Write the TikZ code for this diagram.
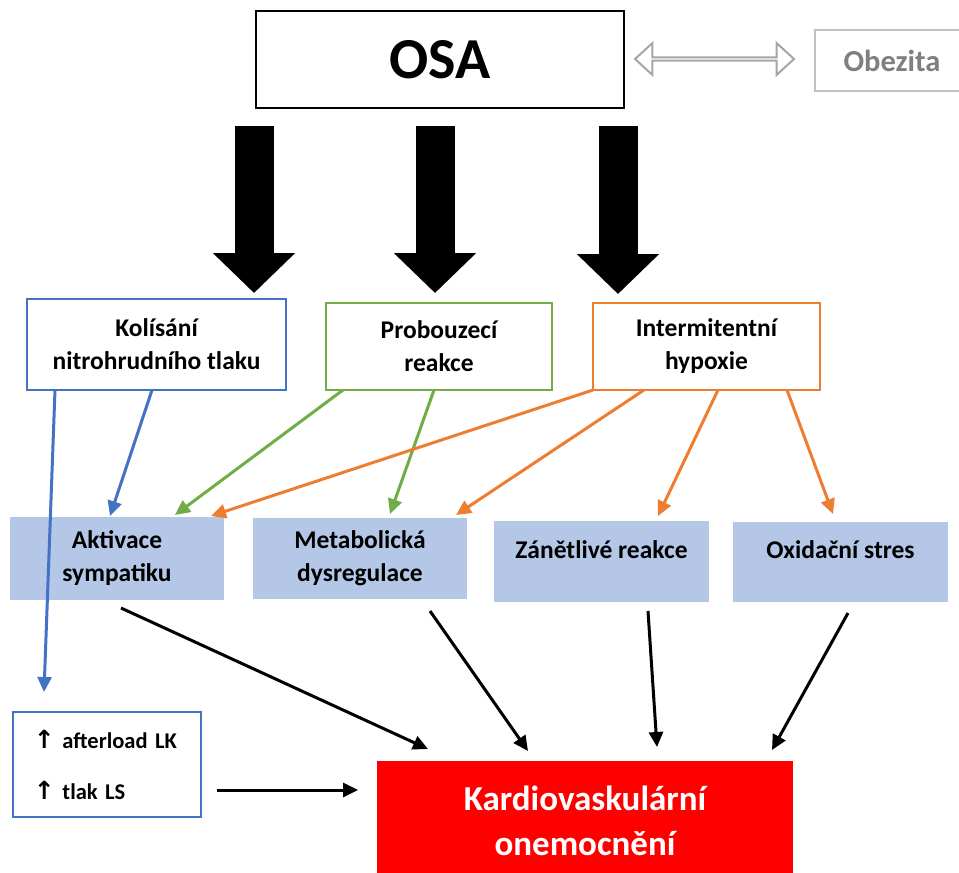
\documentclass[tikz,border=0pt]{standalone}
\usepackage{fontspec}
\setmainfont{Carlito}
\newfontfamily\arrowfont{DejaVu Sans}
\usetikzlibrary{arrows.meta,shapes.arrows}
\definecolor{osablue}{HTML}{4472C4}
\definecolor{osagreen}{HTML}{70AD47}
\definecolor{osaorange}{HTML}{ED7D31}
\definecolor{effectfill}{HTML}{B4C7E7}
\definecolor{linkgray}{HTML}{A6A6A6}
\definecolor{textgray}{HTML}{7F7F7F}

\begin{document}
\begin{tikzpicture}[x=1pt,y=-1pt,
  every node/.append style={outer sep=0pt},
  txt/.style={font=\fontsize{25.5}{33}\selectfont\bfseries},
  causebox/.style={draw, line width=2pt, fill=white, align=center, inner sep=0pt, txt},
  effectbox/.style={fill=effectfill, minimum width=214pt, minimum height=81pt, align=center, inner sep=0pt, txt},
  bigarrow/.style={line width=39pt, -{Triangle[width=80pt,length=40pt]}},
  thinarrow/.style={line width=3pt, -{Triangle[width=14pt,length=15pt]}}]
\useasboundingbox (0,0) rectangle (959,873);

% Top row
\node[draw, line width=2.5pt, minimum width=368pt, minimum height=97pt, font=\fontsize{58}{60}\selectfont\bfseries] (osa) at (440,59.5) {OSA};
\node[draw=linkgray!70, line width=2pt, minimum width=154pt, minimum height=61pt, text=textgray, font=\fontsize{30.5}{32}\selectfont\bfseries] (obez) at (892,60.5) {Obezita};
\node[double arrow, draw=linkgray, line width=2pt, fill=white, minimum height=159pt, minimum width=32pt, double arrow head extend=8.5pt, double arrow tip angle=85, inner sep=0pt] (link) at (714.5,59) {};

% Causes
\node[causebox, draw=osablue, minimum width=259pt, minimum height=91pt] (kol) at (156.5,344.5) {Kolísání\\nitrohrudního tlaku};
\node[causebox, draw=osagreen, minimum width=226pt, minimum height=87pt] (prob) at (439,346.5) {Probouzecí\\reakce};
\node[causebox, draw=osaorange, minimum width=227pt, minimum height=87pt] (hyp) at (706.5,346.5) {Intermitentní\\hypoxie};

\draw[bigarrow] ([xshift=-186pt,yshift=-18pt]osa.south) -- ([xshift=97.5pt,yshift=6pt]kol.north);
\draw[bigarrow] ([xshift=-5pt,yshift=-18pt]osa.south) -- ([xshift=-4pt,yshift=10pt]prob.north);
\draw[bigarrow] ([xshift=178pt,yshift=-18pt]osa.south) -- ([xshift=-88.5pt,yshift=9pt]hyp.north);

% Effects
\node[effectbox, minimum height=83pt] (akt) at (117,558.5) {Aktivace\\sympatiku};
\node[effectbox] (met) at (360,558.5) {Metabolická\\dysregulace};
\node[effectbox, minimum width=215pt, text depth=24pt] (zan) at (601.5,561.5) {Zánětlivé reakce};
\node[effectbox, minimum width=215pt, minimum height=80pt, text depth=24pt] (oxi) at (840.5,562) {Oxidační stres};

% Bottom row
\node[draw=osablue, line width=2pt, minimum width=188pt, minimum height=105pt, text width=146pt, align=left, inner sep=0pt, font=\fontsize{22.5}{26}\selectfont\bfseries] (tlak) at (107,764.5) {{\arrowfont\fontsize{25}{26}\selectfont ↑} afterload LK\\[25pt]{\arrowfont\fontsize{25}{26}\selectfont ↑} tlak LS};
\node[fill=red, minimum width=416pt, minimum height=119pt, align=center, text=white, font=\fontsize{35}{45}\selectfont\bfseries] (kard) at (585,820.5) {Kardiovaskulární\\onemocnění};

% Colored connectors
\draw[thinarrow, osablue] ([xshift=-101.5pt]kol.south) -- ([xshift=-63pt,yshift=20pt]tlak.north);
\draw[thinarrow, osablue] ([xshift=-4.5pt]kol.south) -- ([xshift=-7pt,yshift=1pt]akt.north);
\draw[thinarrow, osagreen] ([xshift=-96pt]prob.south) -- ([xshift=58pt,yshift=2pt]akt.north);
\draw[thinarrow, osagreen] ([xshift=-5pt]prob.south) -- ([xshift=30pt,yshift=4pt]met.north);
\draw[thinarrow, osaorange] (hyp.south west) -- ([xshift=94pt,yshift=1pt]akt.north);
\draw[thinarrow, osaorange] ([xshift=-62.5pt]hyp.south) -- ([xshift=96pt,yshift=3pt]met.north);
\draw[thinarrow, osaorange] ([xshift=11.5pt]hyp.south) -- ([xshift=56.5pt,yshift=5pt]zan.north);
\draw[thinarrow, osaorange] ([xshift=80.5pt]hyp.south) -- ([xshift=-7.5pt,yshift=8pt]oxi.north);

% Black connectors
\draw[thinarrow] ([xshift=4pt,yshift=-8pt]akt.south) -- ([xshift=-157pt,yshift=12pt]kard.north);
\draw[thinarrow] ([xshift=70pt,yshift=-12pt]met.south) -- ([xshift=-57pt,yshift=10pt]kard.north);
\draw[thinarrow] ([xshift=46.5pt,yshift=-9pt]zan.south) -- ([xshift=72pt,yshift=14pt]kard.north);
\draw[thinarrow] ([xshift=7.5pt,yshift=-11pt]oxi.south) -- ([xshift=187pt,yshift=11pt]kard.north);
\draw[thinarrow] ([xshift=16pt,yshift=-25.5pt]tlak.east) -- ([xshift=-19pt,yshift=30.5pt]kard.west);
\end{tikzpicture}
\end{document}
